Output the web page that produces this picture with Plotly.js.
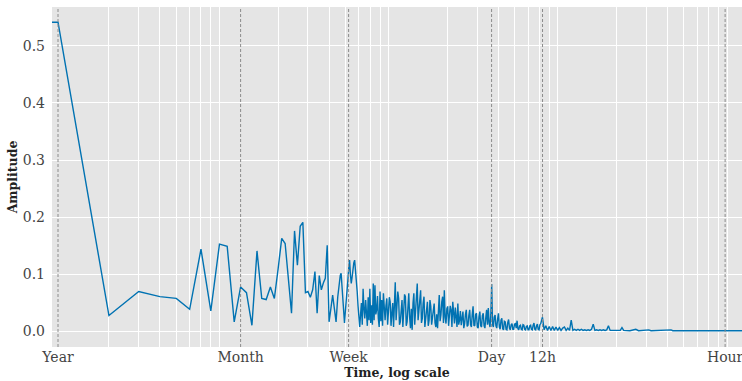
<!DOCTYPE html>
<html>
<head>
<meta charset="utf-8">
<script src="https://cdn.plot.ly/plotly-3.0.1.min.js"></script>
<style>html,body{margin:0;padding:0;background:#fff;}#chart{width:742px;height:381px;}</style>
</head>
<body>
<div id="chart"></div>
<script>
// Frequencies in cycles per year; first entry is the (clipped) DC bin.
const lowFreq = [0.5, 1, 2, 3, 4, 5, 6, 7, 8, 9, 10, 11, 12, 13, 14, 15, 16, 17, 18, 19, 20,
  21, 22, 23, 24, 25, 26, 27, 28, 29, 30, 31, 32, 33, 34, 35, 36, 37, 38, 39, 40, 41, 42, 43, 44];
const lowAmp = [0.541, 0.541, 0.028, 0.070, 0.061, 0.058, 0.039, 0.144, 0.036, 0.153, 0.149,
  0.017, 0.078, 0.068, 0.011, 0.141, 0.058, 0.056, 0.078, 0.058, 0.110,
  0.163, 0.154, 0.090, 0.032, 0.176, 0.116, 0.184, 0.191, 0.068, 0.070,
  0.060, 0.073, 0.105, 0.032, 0.098, 0.073, 0.085, 0.093, 0.151, 0.017,
  0.040, 0.064, 0.040, 0.017];

// Dense part A: amplitudes, 200 samples per decade from 45 cycles/year
const denseAStartFreq = 45;
const denseASamplesPerDecade = 200;
const denseAAmp = [
  0.060, 0.075, 0.090, 0.098, 0.102, 0.075, 0.050, 0.030, 0.015, 0.035,
  0.060, 0.075, 0.090, 0.110, 0.125, 0.100, 0.084, 0.095, 0.110, 0.120,
  0.125, 0.110, 0.098, 0.070, 0.045, 0.025, 0.008, 0.030, 0.050, 0.012,
  0.075, 0.040, 0.023, 0.055, 0.027, 0.010, 0.060, 0.020, 0.075, 0.015,
  0.046, 0.012, 0.084, 0.020, 0.081, 0.030, 0.038, 0.062, 0.023, 0.008,
  0.070, 0.018, 0.055, 0.010, 0.067, 0.030, 0.020, 0.045, 0.058, 0.012,
  0.038, 0.060, 0.052, 0.010, 0.032, 0.050, 0.008, 0.040, 0.086, 0.020,
  0.038, 0.070, 0.058, 0.012, 0.017, 0.045, 0.055, 0.008, 0.032, 0.065,
  0.061, 0.010, 0.017, 0.048, 0.067, 0.025, 0.006, 0.040, 0.003, 0.050,
  0.067, 0.012, 0.032, 0.058, 0.084, 0.020, 0.038, 0.060, 0.072, 0.015,
  0.023, 0.050, 0.061, 0.008, 0.026, 0.045, 0.052, 0.010, 0.020, 0.055,
  0.044, 0.012, 0.023, 0.040, 0.049, 0.015, 0.008, 0.030, 0.006, 0.035,
  0.064, 0.018, 0.029, 0.052, 0.061, 0.015, 0.072, 0.025, 0.014, 0.040,
  0.044, 0.010, 0.023, 0.045, 0.038, 0.008, 0.052, 0.020, 0.014, 0.042,
  0.023, 0.008, 0.049, 0.012, 0.020, 0.036, 0.011, 0.030, 0.035, 0.006,
  0.014, 0.030, 0.038, 0.009, 0.011, 0.028, 0.038, 0.012, 0.008, 0.030,
  0.044, 0.010, 0.011, 0.030, 0.032, 0.008, 0.006, 0.026, 0.035, 0.010,
  0.008, 0.028, 0.032, 0.010, 0.006, 0.024, 0.038, 0.012, 0.041, 0.015,
  0.008, 0.030, 0.083, 0.012, 0.008, 0.025, 0.029, 0.010, 0.006, 0.022,
  0.032, 0.008, 0.004, 0.020, 0.023, 0.005, 0.003, 0.018, 0.017, 0.004,
  0.003, 0.016, 0.021, 0.006, 0.003, 0.012, 0.014, 0.004, 0.004, 0.013,
  0.014, 0.006, 0.019, 0.005, 0.003, 0.010, 0.011, 0.004, 0.003, 0.012,
  0.011, 0.004, 0.003, 0.009, 0.010, 0.003, 0.003, 0.010, 0.011, 0.004,
  0.003, 0.011, 0.015, 0.004, 0.003, 0.010, 0.013, 0.004, 0.003, 0.012,
  0.014
];

// Dense part B: 100 samples per decade from about 730 cycles/year (12h)
const denseBStartFreq = 729.8;
const denseBSamplesPerDecade = 100;
const denseBAmp = [
  0.025, 0.003, 0.010, 0.002, 0.009, 0.002, 0.009, 0.002, 0.008, 0.002,
  0.007, 0.002, 0.006, 0.008, 0.002, 0.006, 0.002, 0.020, 0.002, 0.004,
  0.002, 0.004, 0.002, 0.004, 0.002, 0.003, 0.002, 0.003, 0.002, 0.004,
  0.013, 0.002, 0.003, 0.002, 0.003, 0.002, 0.003, 0.002, 0.003, 0.010,
  0.002, 0.002, 0.003, 0.002, 0.002, 0.002, 0.002, 0.007, 0.002
];

const tailFreq = [2400, 2600, 2700, 3100, 3200, 4200, 4300, 12000];
const tailAmp = [0.0015, 0.004, 0.0015, 0.003, 0.0015, 0.003, 0.0015, 0.0015];

const tickVals = [1, 12, 52.1775, 365.2524, 730.5048, 8766.06];
const tickText = ['Year', 'Month', 'Week', 'Day', '12h', 'Hour'];
const yTickVals = [0, 0.1, 0.2, 0.3, 0.4, 0.5];

const grid = (start, perDecade, arr) => arr.map((_, i) => start * Math.pow(10, i / perDecade));
const freq = lowFreq.concat(
  grid(denseAStartFreq, denseASamplesPerDecade, denseAAmp),
  grid(denseBStartFreq, denseBSamplesPerDecade, denseBAmp),
  tailFreq);
const amp = lowAmp.concat(denseAAmp, denseBAmp, tailAmp);

const minorVals = [];
[1, 10, 100, 1000].forEach(d => { for (let k = 2; k <= 9; k++) minorVals.push(k * d); });

const serif = '"DejaVu Serif", serif';

const trace = {
  x: freq, y: amp, type: 'scatter', mode: 'lines',
  line: {color: '#0072B2', width: 1.4}, hoverinfo: 'skip'
};

const shapes = tickVals.map(v => ({
  type: 'line', xref: 'x', yref: 'paper', x0: v, x1: v, y0: 0, y1: 1,
  line: {color: '#8c8c8c', width: 1, dash: '3px,2px'}, layer: 'above'
}));

const layout = {
  width: 742, height: 381,
  margin: {l: 52, r: 0, t: 7, b: 34, pad: 0},
  paper_bgcolor: '#ffffff', plot_bgcolor: '#E5E5E5',
  showlegend: false,
  font: {family: serif, size: 14, color: '#444'},
  xaxis: {
    type: 'log', range: [-0.0355, 4.0426],
    tickmode: 'array', tickvals: tickVals, ticktext: tickText,
    showgrid: false, zeroline: false, showline: false, ticks: '',
    ticklabeloverflow: 'allow',
    tickfont: {family: serif, size: 14, color: '#444'},
    minor: {tickmode: 'array', tickvals: minorVals, showgrid: true, gridcolor: '#ffffff', gridwidth: 1, ticks: ''},
    title: {text: '<b>Time, log scale</b>', font: {family: serif, size: 12.5, color: '#222'}, standoff: 3}
  },
  yaxis: {
    range: [-0.027, 0.5676],
    tickmode: 'array', tickvals: yTickVals, ticktext: yTickVals.map(v => v.toFixed(1)),
    showgrid: true, gridcolor: '#ffffff', gridwidth: 1,
    zeroline: false, showline: false, ticks: '',
    ticklabelstandoff: 6,
    tickfont: {family: serif, size: 14, color: '#444'},
    title: {text: '<b>Amplitude</b>', font: {family: serif, size: 12.5, color: '#222'}, standoff: 2}
  },
  shapes: shapes
};

Plotly.newPlot('chart', [trace], layout, {displayModeBar: false, staticPlot: true});
</script>
</body>
</html>
